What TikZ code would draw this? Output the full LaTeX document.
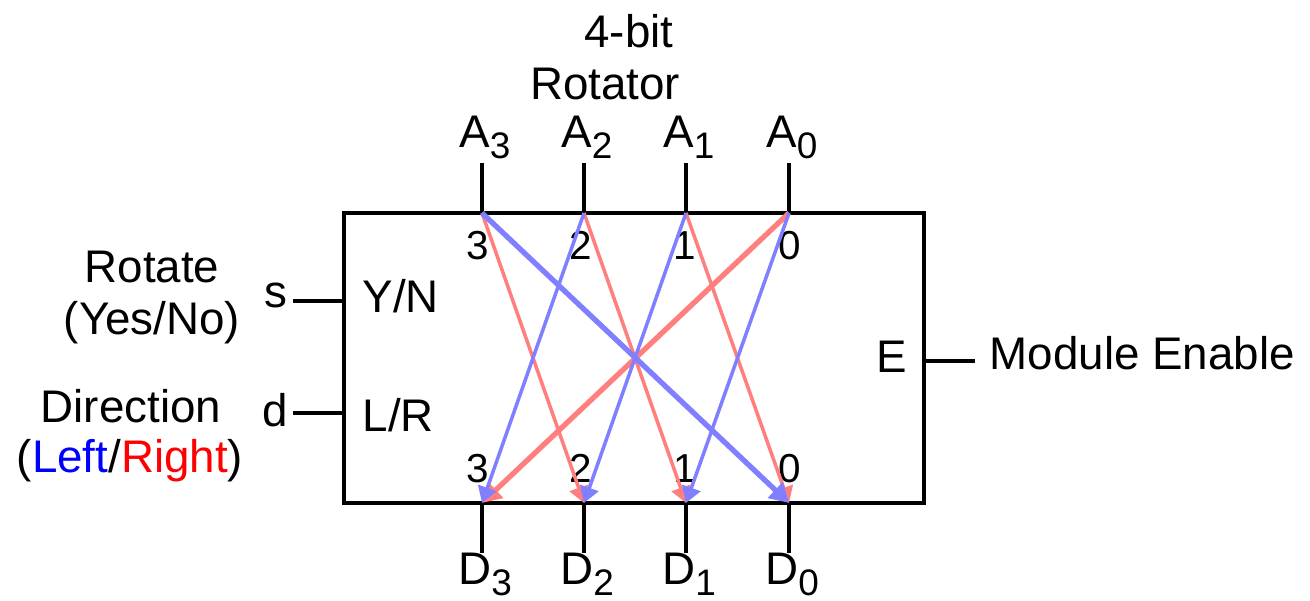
\documentclass[tikz,border=0pt]{standalone}
\usepackage{fontspec}
\setmainfont{Liberation Sans}
\usetikzlibrary{arrows.meta}
\definecolor{cLeft}{HTML}{7F7FFF}
\definecolor{cRight}{HTML}{FF7F7F}
\definecolor{cLeftTxt}{HTML}{0000FF}
\definecolor{cRightTxt}{HTML}{FF0000}
\newcommand{\bitsub}[1]{\raisebox{-0.42ex}{\fontsize{10.5}{12}\selectfont #1}}
\tikzset{
  wire/.style={line width=1.15pt, black},
  lbl/.style={inner sep=0pt, anchor=base},
  num/.style={inner sep=0pt, anchor=base, font=\fontsize{11.5}{13}\selectfont},
  rotl/.style={-{Triangle[length=0.16cm, width=0.19cm]}, line width=1pt, cLeft},
  rotr/.style={-{Triangle[length=0.16cm, width=0.19cm]}, line width=1pt, cRight},
  heavy/.style={line width=1.5pt, -{Triangle[length=0.19cm, width=0.21cm]}},
}

\begin{document}
\begin{tikzpicture}[x=0.01cm, y=-0.01cm, font=\fontsize{13}{15}\selectfont]
  \useasboundingbox (0,0) rectangle (1310,601);
  \node[draw, line width=1.15pt, minimum width=5.8cm, minimum height=2.9cm, inner sep=0pt, outer sep=0pt] (rot) at (634,358) {};
  \node[lbl] (title) at (629,48) {4-bit};
  \node[lbl] (title2) at (605,100) {Rotator};
  % pins on top and bottom
  \foreach \i/\x/\nx in {3/482/478, 2/584/581, 1/686/685, 0/789/790} {
    \coordinate (a\i) at (\x,213);
    \coordinate (d\i) at (\x,503);
    \coordinate (ta\i) at (\x,163);
    \coordinate (bd\i) at (\x,553);
    \node[lbl] (A\i) at (\x+3,148) {A\bitsub{\i}};
    \node[lbl] (D\i) at (\x+3,585) {D\bitsub{\i}};
    \node[num] (na\i) at (\nx,260) {\i};
    \node[num] (nd\i) at (\nx,483) {\i};
    \draw[wire] (ta\i) -- (a\i);
    \draw[wire] (d\i) -- (bd\i);
  }
  % rotate right
  \draw[rotr] (a3) -- (d2);
  \draw[rotr] (a2) -- (d1);
  \draw[rotr] (a1) -- (d0);
  \draw[rotr, heavy] (a0) -- (d3);
  % rotate left
  \draw[rotl, heavy] (a3) -- (d0);
  \draw[rotl] (a2) -- (d3);
  \draw[rotl] (a1) -- (d2);
  \draw[rotl] (a0) -- (d1);
  % control inputs
  \coordinate (sin) at (293,301);
  \coordinate (din) at (293,413);
  \coordinate (eout) at (975,361);
  \draw[wire] (sin) -- (rot.west |- sin);
  \draw[wire] (din) -- (rot.west |- din);
  \draw[wire] (rot.east |- eout) -- (eout);
  \node[lbl] (s) at (276,308) {s};
  \node[lbl] (d) at (275,427) {d};
  \node[lbl, anchor=base west] (yn) at (362,313) {Y/N};
  \node[lbl, anchor=base west] (lr) at (362,432) {L/R};
  \node[lbl, anchor=base east] (en) at (908,373) {E};
  \node[lbl, anchor=base west] (modEn) at (989,370) {Module Enable};
  \node[lbl] (rotTxt) at (152,283) {Rotate};
  \node[lbl] (ynTxt) at (152,335) {(Yes/No)};
  \node[lbl] (dirTxt) at (131,423) {Direction};
  \node[lbl] (lrTxt) at (130,473) {(\textcolor{cLeftTxt}{Left}/\textcolor{cRightTxt}{Right})};
\end{tikzpicture}
\end{document}
